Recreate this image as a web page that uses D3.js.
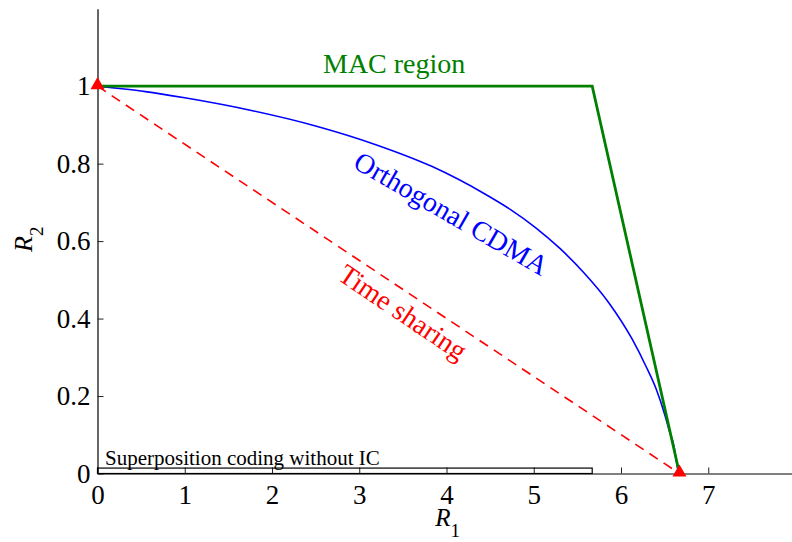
<!DOCTYPE html>
<html>
<head>
<meta charset="utf-8">
<script src="https://cdn.jsdelivr.net/npm/d3@7"></script>
<style>
    body { margin: 0; background: #fff; }
    svg { display: block; font-family: "Liberation Serif", "Times New Roman", serif; }
</style>
</head>
<body>
<svg id="chart" width="792" height="542"></svg>
<script>
// Rate region data (R1 on x, R2 on y)
var xTicks = [0, 1, 2, 3, 4, 5, 6, 7];
var yTicks = [0, 0.2, 0.4, 0.6, 0.8, 1];

var macR1 = [0, 5.67, 6.67];
var macR2 = [1, 1, 0];

var cdmaR1 = [0, 0.25, 0.55, 1.0, 1.79, 2.52, 3.19, 3.83, 4.43, 4.73, 5.02, 5.30, 5.58, 5.86, 6.13, 6.29, 6.40, 6.50, 6.55, 6.61, 6.63, 6.66];
var cdmaR2 = [1, 0.994, 0.986, 0.970, 0.936, 0.896, 0.849, 0.793, 0.723, 0.682, 0.635, 0.581, 0.517, 0.441, 0.346, 0.275, 0.220, 0.153, 0.113, 0.067, 0.038, 0];

var timeR1 = [0, 6.67];
var timeR2 = [1, 0];

var cornerR1 = [0, 6.67];
var cornerR2 = [1, 0];

var superR1 = [0, 5.67];
var superR2 = [0, 0.014];

var margin = { left: 97.5, top: 8.7 };
var width = 698;
var height = 464.8;

var xScale = d3.scaleLinear().domain([0, 8]).range([0, width]);
var yScale = d3.scaleLinear().domain([0, 1.2]).range([height, 0]);

var svg = d3.select('#chart');
var g = svg.append('g')
    .attr('transform', 'translate(' + margin.left + ',' + margin.top + ')');

function zip(xs, ys) {
    return xs.map(function(x, i) { return { x: x, y: ys[i] }; });
}

var line = d3.line()
    .x(function(d) { return xScale(d.x); })
    .y(function(d) { return yScale(d.y); });

var smooth = d3.line()
    .x(function(d) { return xScale(d.x); })
    .y(function(d) { return yScale(d.y); })
    .curve(d3.curveMonotoneX);

/* Axes */
var xAxis = g.append('g')
    .attr('transform', 'translate(0,' + height + ')')
    .call(d3.axisBottom(xScale)
        .tickValues(xTicks)
        .tickFormat(function(d) { return String(d); })
        .tickSizeInner(-6)
        .tickSizeOuter(0)
        .tickPadding(11));

xAxis.select('.domain').attr('stroke', '#808080').attr('stroke-width', 2);
xAxis.selectAll('.tick line').attr('stroke', '#222');
xAxis.selectAll('.tick text')
    .style('font-size', '27px')
    .attr('fill', '#000')
    .style('font-family', '"Liberation Serif", serif');

var yAxis = g.append('g')
    .call(d3.axisLeft(yScale)
        .tickValues(yTicks)
        .tickFormat(function(d) { return String(d); })
        .tickSizeInner(-6)
        .tickSizeOuter(0)
        .tickPadding(7));

yAxis.select('.domain').attr('stroke', '#000').attr('stroke-width', 1.2);
yAxis.selectAll('.tick line').attr('stroke', '#222');
yAxis.selectAll('.tick text')
    .style('font-size', '27px')
    .attr('fill', '#000')
    .style('font-family', '"Liberation Serif", serif');

// axis titles
var xTitle = svg.append('text')
    .attr('x', margin.left + xScale(3.87))
    .attr('y', 526)
    .style('font-size', '25px');
xTitle.append('tspan').style('font-style', 'italic').text('R');
xTitle.append('tspan').attr('dy', 11).style('font-size', '19px').text('1');

var yTitle = svg.append('text')
    .attr('transform', 'translate(32,252) rotate(-90)')
    .style('font-size', '26px');
yTitle.append('tspan').style('font-style', 'italic').text('R');
yTitle.append('tspan').attr('dy', 11).style('font-size', '19px').text('2');

/* Superposition coding without IC */
g.append('rect')
    .attr('x', xScale(superR1[0]))
    .attr('y', yScale(superR2[1]))
    .attr('width', xScale(superR1[1]) - xScale(superR1[0]))
    .attr('height', yScale(superR2[0]) - yScale(superR2[1]))
    .attr('fill', 'none')
    .attr('stroke', '#000')
    .attr('stroke-width', 1.2);

/* Curves */
g.append('path')
    .datum(zip(timeR1, timeR2))
    .attr('d', line)
    .attr('fill', 'none')
    .attr('stroke', '#ff0000')
    .attr('stroke-width', 1.6)
    .attr('stroke-dasharray', '10,7');

g.append('path')
    .datum(zip(cdmaR1, cdmaR2))
    .attr('d', smooth)
    .attr('fill', 'none')
    .attr('stroke', '#0000ff')
    .attr('stroke-width', 1.6);

g.append('path')
    .datum(zip(macR1, macR2))
    .attr('d', line)
    .attr('fill', 'none')
    .attr('stroke', '#008000')
    .attr('stroke-width', 2.8)
    .attr('stroke-linejoin', 'miter');

g.selectAll('path.corner')
    .data(zip(cornerR1, cornerR2))
    .join('path')
    .attr('class', 'corner')
    .attr('d', d3.symbol().type(d3.symbolTriangle).size(85))
    .attr('transform', function(d) {
        return 'translate(' + xScale(d.x) + ',' + (yScale(d.y) - 1) + ')';
    })
    .attr('fill', '#ff0000');

/* Labels */
function label(text, x, y, color, size, angle, anchor) {
    g.append('text')
        .attr('transform', 'translate(' + xScale(x) + ',' + yScale(y) + ') rotate(' + angle + ')')
        .attr('text-anchor', anchor)
        .attr('fill', color)
        .style('font-size', size + 'px')
        .text(text);
}

label('MAC region', 3.40, 1.035, '#008000', 28, 0, 'middle');
label('Orthogonal CDMA', 4.0, 0.65, '#0000ff', 28, 30, 'middle');
label('Time sharing', 3.44, 0.396, '#ff0000', 28, 34, 'middle');
label('Superposition coding without IC', 0.086, 0.022, '#000', 21, 0, 'start');
</script>
</body>
</html>
